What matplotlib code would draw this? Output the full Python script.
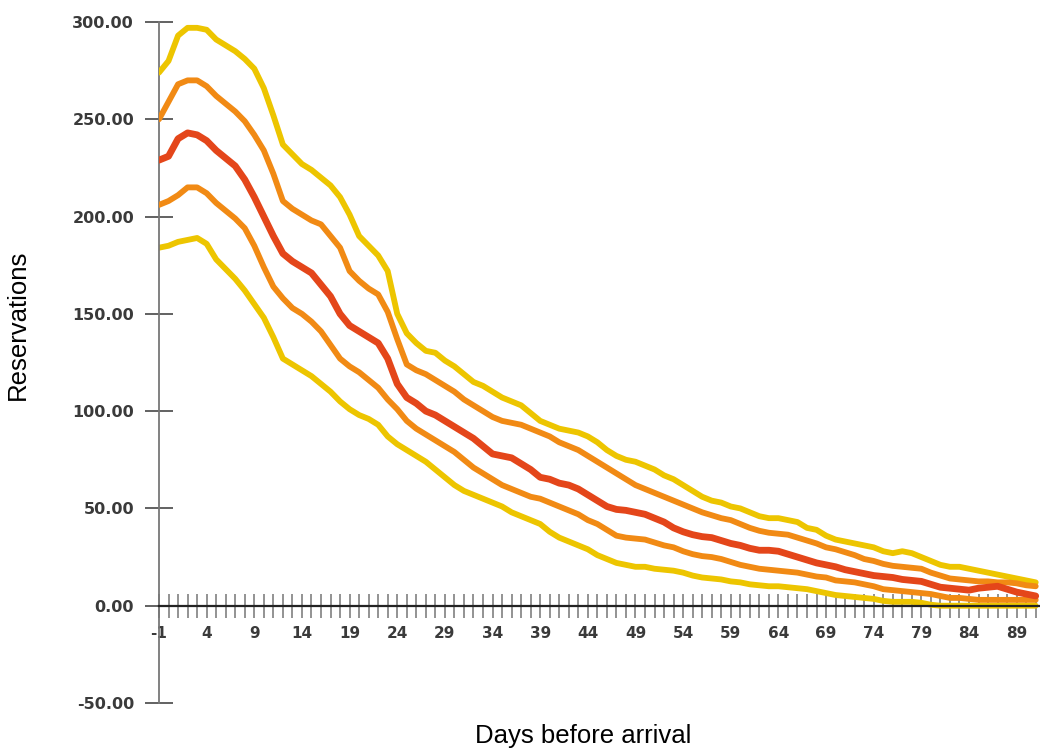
import matplotlib
matplotlib.use('Agg')
import matplotlib.pyplot as plt

# Days before arrival (-1 .. 91)
days = list(range(-1, 92))

# outer upper band (yellow)
upper_outer = [274, 280, 293, 297, 297, 296, 291, 288, 285, 281,
               276, 266, 252, 237, 232, 227, 224, 220, 216, 210,
               201, 190, 185, 180, 172, 150, 140, 135, 131, 130,
               126, 123, 119, 115, 113, 110, 107, 105, 103, 99,
               95, 93, 91, 90, 89, 87, 84, 80, 77, 75,
               74, 72, 70, 67, 65, 62, 59, 56, 54, 53,
               51, 50, 48, 46, 45, 45, 44, 43, 40, 39,
               36, 34, 33, 32, 31, 30, 28, 27, 28, 27,
               25, 23, 21, 20, 20, 19, 18, 17, 16, 15,
               14, 13, 12]

# inner upper band (orange)
upper_inner = [250, 259, 268, 270, 270, 267, 262, 258, 254, 249,
               242, 234, 222, 208, 204, 201, 198, 196, 190, 184,
               172, 167, 163, 160, 151, 137, 124, 121, 119, 116,
               113, 110, 106, 103, 100, 97, 95, 94, 93, 91,
               89, 87, 84, 82, 80, 77, 74, 71, 68, 65,
               62, 60, 58, 56, 54, 52, 50, 48, 46.5, 45,
               44, 42, 40, 38.5, 37.5, 37, 36.5, 35, 33.5, 32,
               30, 29, 27.5, 26, 24, 23, 21.5, 20.5, 20, 19.5,
               19, 17, 15.5, 14, 13.5, 13, 12.5, 12.5, 12, 12,
               11.5, 10.5, 10]

# expected reservations (red)
expected = [229, 231, 240, 243, 242, 239, 234, 230, 226, 219,
            210, 200, 190, 181, 177, 174, 171, 165, 159, 150,
            144, 141, 138, 135, 127, 114, 107, 104, 100, 98,
            95, 92, 89, 86, 82, 78, 77, 76, 73, 70,
            66, 65, 63, 62, 60, 57, 54, 51, 49.5, 49,
            48, 47, 45, 43, 40, 38, 36.5, 35.5, 35, 33.5,
            32, 31, 29.5, 28.5, 28.5, 28, 26.5, 25, 23.5, 22,
            21, 20, 18.5, 17.5, 16.5, 15.5, 15, 14.5, 13.5, 13,
            12.5, 11, 9.5, 9, 8.5, 8, 9, 9.5, 10, 8.5,
            7, 6, 5]

# inner lower band (orange)
lower_inner = [206, 208, 211, 215, 215, 212, 207, 203, 199, 194,
               185, 174, 164, 158, 153, 150, 146, 141, 134, 127,
               123, 120, 116, 112, 106, 101, 95, 91, 88, 85,
               82, 79, 75, 71, 68, 65, 62, 60, 58, 56,
               55, 53, 51, 49, 47, 44, 42, 39, 36, 35,
               34.5, 34, 32.5, 31, 30, 28, 26.5, 25.5, 25, 24,
               22.5, 21, 20, 19, 18.5, 18, 17.5, 17, 16, 15,
               14.5, 13, 12.5, 12, 11, 10, 8.5, 8, 7.5, 7,
               6.5, 6, 5, 4, 4, 3.5, 3, 3, 3, 3,
               3, 3, 3]

# outer lower band (yellow)
lower_outer = [184, 185, 187, 188, 189, 186, 178, 173, 168, 162,
               155, 148, 138, 127, 124, 121, 118, 114, 110, 105,
               101, 98, 96, 93, 87, 83, 80, 77, 74, 70,
               66, 62, 59, 57, 55, 53, 51, 48, 46, 44,
               42, 38, 35, 33, 31, 29, 26, 24, 22, 21,
               20, 20, 19, 18.5, 18, 17, 15.5, 14.5, 14, 13.5,
               12.5, 12, 11, 10.5, 10, 10, 9.5, 9, 8.5, 7.5,
               6.5, 5.5, 5, 4.5, 4, 3.5, 2.5, 2, 2, 2,
               1.5, 0.5, 0, 0, 0, 0, 0, 0, 0, 0,
               0, 0, 0]

label_days = list(range(-1, 90, 5))
y_ticks = [-50, 0, 50, 100, 150, 200, 250, 300]

yellow = '#EDC500'
orange = '#F18A14'
red = '#E4461A'

fig = plt.figure(figsize=(10.4, 7.49), dpi=100)
ax = fig.add_axes([159 / 1040, 46 / 749, 1 - 159 / 1040, (703 - 22) / 749])

lw = 4.2
ax.plot(days, upper_outer, color=yellow, linewidth=lw, solid_capstyle='round', zorder=3)
ax.plot(days, lower_outer, color=yellow, linewidth=lw, solid_capstyle='round', zorder=2)
ax.plot(days, upper_inner, color=orange, linewidth=lw, solid_capstyle='round', zorder=4)
ax.plot(days, lower_inner, color=orange, linewidth=lw, solid_capstyle='round', zorder=4)
ax.plot(days, expected, color=red, linewidth=lw + 0.7, solid_capstyle='round', zorder=5)

ax.set_xlim(-1, 91.45)
ax.set_ylim(-50, 300)

# axes: vertical line at the left, horizontal one through zero
for side in ['top', 'right']:
    ax.spines[side].set_visible(False)
ax.spines['left'].set_color('#777777')
ax.spines['left'].set_linewidth(1.3)
ax.spines['bottom'].set_position(('data', 0))
ax.spines['bottom'].set_color('#222222')
ax.spines['bottom'].set_linewidth(1.6)
ax.spines['bottom'].set_zorder(6)

ax.set_yticks(y_ticks)
ax.set_yticklabels(['%.2f' % v for v in y_ticks])
ax.tick_params(axis='y', direction='inout', length=20, width=1.3, color='#555555',
               pad=8, labelsize=11.5, labelcolor='#3a3a3a')

ax.set_xticks(label_days)
ax.set_xticklabels([str(d) for d in label_days])
ax.set_xticks(days, minor=True)
ax.tick_params(axis='x', which='both', direction='inout', length=17, width=1.2,
               color='#808080', pad=6, labelsize=11, labelcolor='#3a3a3a')

for lbl in ax.get_xticklabels() + ax.get_yticklabels():
    lbl.set_fontweight('bold')

fig.text(583 / 1040, 1 - 736 / 749, 'Days before arrival', ha='center', va='center',
         fontsize=18.5, family='Liberation Sans')
fig.text(18 / 1040, 1 - 325 / 749, 'Reservations', ha='center', va='center',
         rotation=90, fontsize=18.5, family='Liberation Sans')

fig.savefig('out.png', dpi=100)
